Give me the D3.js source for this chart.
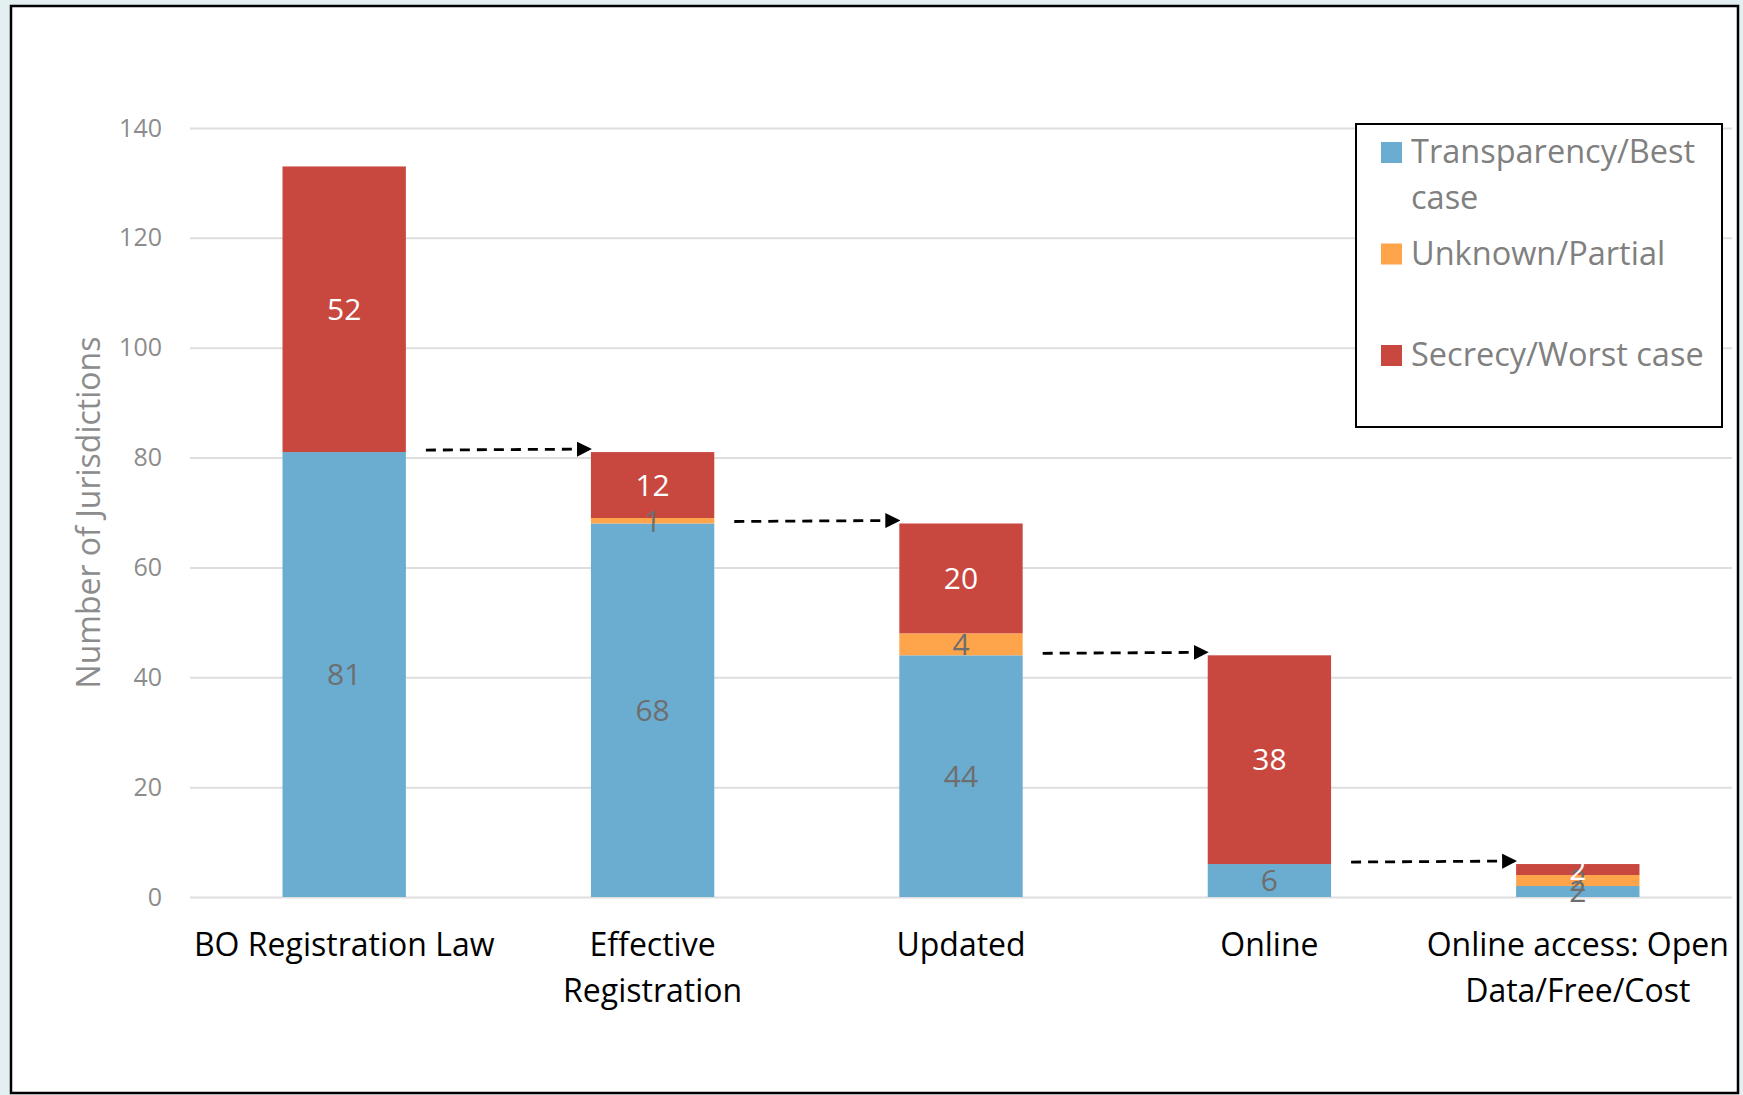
<!DOCTYPE html>
<html>
<head>
<meta charset="utf-8">
<script src="https://cdn.jsdelivr.net/npm/d3@7"></script>
<style>
  body { margin: 0; background: #e3eff1; }
  svg { display: block; }
  .tick text { font-family: "Open Sans", sans-serif; }
</style>
</head>
<body>
<svg id="chart" width="1743" height="1095"></svg>
<script>
// chart values
const categories = ['BO Registration Law', 'Effective Registration', 'Updated', 'Online', 'Online access: Open Data/Free/Cost']
const catLines = [['BO Registration Law'], ['Effective', 'Registration'], ['Updated'], ['Online'], ['Online access: Open', 'Data/Free/Cost']]
const transparency = [81, 68, 44, 6, 2]
const unknown = [0, 1, 4, 0, 2]
const secrecy = [52, 12, 20, 38, 2]
const seriesNames = ['Transparency/Best case', 'Unknown/Partial', 'Secrecy/Worst case']
const legendLines = [['Transparency/Best', 'case'], ['Unknown/Partial'], ['Secrecy/Worst case']]
const yTicks = [0, 20, 40, 60, 80, 100, 120, 140]

const colors = ['#6aadd1', '#fea54c', '#c8483f']
const labelColors = ['#6e6e6e', '#6e6e6e', '#ffffff']

const svg = d3.select('#chart')

// outer frame
svg.append('rect')
  .attr('x', 11).attr('y', 6)
  .attr('width', 1727).attr('height', 1087)
  .attr('fill', '#fff')
  .attr('stroke', '#000')
  .attr('stroke-width', 2.5)

const plotLeft = 190, plotRight = 1732, plotTop = 128, plotBottom = 897

let x = d3.scaleBand()
  .domain(categories)
  .range([plotLeft, plotRight])
  .paddingInner(0.6)
  .paddingOuter(0.3)

let y = d3.scaleLinear()
  .domain([0, 140])
  .range([plotBottom, plotTop])

// gridlines + y tick labels
let yAxis = d3.axisLeft(y)
  .tickValues(yTicks)
  .tickSize(-(plotRight - plotLeft))
  .tickPadding(28)

let gy = svg.append('g')
  .attr('transform', 'translate(' + plotLeft + ',0)')
  .call(yAxis)
gy.select('.domain').remove()
gy.selectAll('.tick line').attr('stroke', '#dedede').attr('stroke-width', 2)
gy.selectAll('.tick text')
  .attr('fill', '#8c8c8c')
  .style('font-size', '25px')

// y title
svg.append('text')
  .attr('transform', 'translate(89,' + ((plotTop + plotBottom) / 2) + ') rotate(-90)')
  .attr('text-anchor', 'middle')
  .attr('dy', '0.35em')
  .attr('fill', '#8c8c8c')
  .style('font-family', '"Open Sans", sans-serif')
  .style('font-size', '32px')
  .text('Number of Jurisdictions')

// stacked bars
let rows = categories.map((c, i) => ({ cat: c, t: transparency[i], u: unknown[i], s: secrecy[i] }))
let stack = d3.stack().keys(['t', 'u', 's'])
let layers = stack(rows)

let layerG = svg.selectAll('g.layer')
  .data(layers)
  .join('g')
  .attr('class', 'layer')
  .attr('fill', (d, i) => colors[i])

layerG.selectAll('rect')
  .data(d => d)
  .join('rect')
  .attr('x', d => x(d.data.cat))
  .attr('y', d => y(d[1]))
  .attr('width', x.bandwidth())
  .attr('height', d => y(d[0]) - y(d[1]))

// data labels
layers.forEach((layer, li) => {
  svg.append('g').selectAll('text')
    .data(layer.filter(d => d[1] - d[0] > 0))
    .join('text')
    .attr('x', d => x(d.data.cat) + x.bandwidth() / 2)
    .attr('y', d => y((d[0] + d[1]) / 2))
    .attr('dy', '0.36em')
    .attr('text-anchor', 'middle')
    .attr('fill', labelColors[li])
    .style('font-family', '"Open Sans", sans-serif')
    .style('font-size', '30px')
    .text(d => d[1] - d[0])
})

// category labels
categories.forEach((c, i) => {
  let t = svg.append('text')
    .attr('text-anchor', 'middle')
    .attr('fill', '#000')
    .style('font-family', '"Open Sans", sans-serif')
    .style('font-size', '32px')
  catLines[i].forEach((line, j) => {
    t.append('tspan')
      .attr('x', x(c) + x.bandwidth() / 2)
      .attr('y', 956 + j * 46)
      .text(line)
  })
})

// dashed arrows: blue top of one bar -> total of the next
svg.append('defs').append('marker')
  .attr('id', 'head')
  .attr('viewBox', '0 0 10 10')
  .attr('refX', 10).attr('refY', 5)
  .attr('markerUnits', 'userSpaceOnUse')
  .attr('markerWidth', 15).attr('markerHeight', 15)
  .attr('orient', 'auto')
  .append('path')
  .attr('d', 'M0,0 L10,5 L0,10 Z')
  .attr('fill', '#000')

let totals = rows.map(d => d.t + d.u + d.s)
for (let i = 0; i < categories.length - 1; i++) {
  svg.append('line')
    .attr('x1', x(categories[i]) + x.bandwidth() + 20)
    .attr('y1', y(transparency[i]) - 2)
    .attr('x2', x(categories[i + 1]) + 1)
    .attr('y2', y(totals[i + 1]) - 3)
    .attr('stroke', '#000')
    .attr('stroke-width', 2.8)
    .attr('stroke-dasharray', '10,7')
    .attr('marker-end', 'url(#head)')
}

// legend
let legend = svg.append('g')
legend.append('rect')
  .attr('x', 1356).attr('y', 124)
  .attr('width', 366).attr('height', 303)
  .attr('fill', '#fff')
  .attr('stroke', '#000')
  .attr('stroke-width', 2)

seriesNames.forEach((name, i) => {
  let base = 163 + i * 101.5
  legend.append('rect')
    .attr('x', 1381).attr('y', base - 21)
    .attr('width', 21).attr('height', 21)
    .attr('fill', colors[i])
  let t = legend.append('text')
    .attr('fill', '#808080')
    .style('font-family', '"Open Sans", sans-serif')
    .style('font-size', '32.5px')
  legendLines[i].forEach((line, j) => {
    t.append('tspan')
      .attr('x', 1411)
      .attr('y', base + j * 46)
      .text(line)
  })
})
</script>
</body>
</html>
